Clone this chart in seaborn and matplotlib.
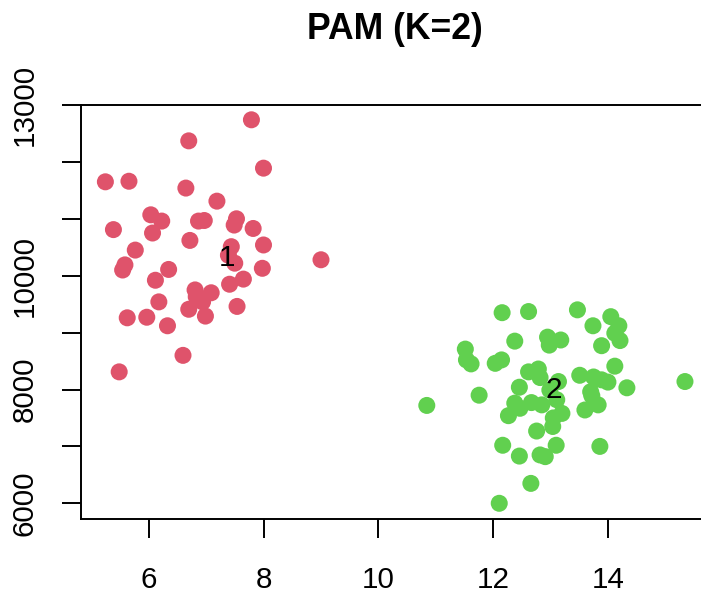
import matplotlib
matplotlib.use("Agg")
import matplotlib.pyplot as plt
import seaborn as sns
import pandas as pd

# ---- data ----
c1_x = [7.79, 6.70, 8.00, 5.25, 5.66, 6.65, 7.19, 6.04, 6.23, 5.39, 6.07, 6.87, 6.97,
        7.53, 7.49, 7.82, 6.72, 8.00, 7.44, 5.77, 7.39, 7.50, 7.98, 5.59, 5.55, 6.35,
        6.12, 7.41, 7.65, 6.81, 7.09, 6.83, 6.18, 6.94, 6.70, 7.54, 6.99, 5.63, 5.97,
        6.33, 6.60, 5.49, 9.00]
c1_y = [12740, 12370, 11890, 11650, 11660, 11540, 11310, 11070, 10960, 10810,
        10750, 10960, 10970, 11000, 10890, 10830, 10620, 10540, 10510, 10450,
        10360, 10220, 10130, 10190, 10100, 10110, 9920, 9850, 9940, 9750,
        9700, 9630, 9540, 9540, 9410, 9460, 9290, 9260, 9270, 9120, 8600,
        8310, 10280]
c2_x = [12.15, 12.61, 13.46, 14.04, 13.73, 14.18, 14.11, 14.20, 12.94, 13.17, 12.97,
        12.37, 13.88, 11.51, 11.53, 11.61, 12.03, 12.14, 14.11, 12.61, 12.78, 12.81,
        13.13, 13.50, 13.74, 13.88, 13.99, 14.32, 15.33, 12.45, 12.98, 11.75, 10.84,
        13.69, 13.71, 13.82, 13.59, 12.37, 12.46, 12.66, 12.84, 13.10, 12.26, 13.19,
        13.04, 13.03, 12.75, 12.16, 13.09, 13.85, 12.45, 12.81, 12.90, 12.65, 12.10]
c2_y = [9350, 9370, 9400, 9280, 9120, 9120, 8990, 8860, 8920, 8870, 8780,
        8850, 8770, 8710, 8520, 8450, 8460, 8520, 8410, 8310, 8360, 8210,
        8140, 8250, 8220, 8170, 8130, 8030, 8140, 8040, 7990, 7900, 7720,
        7960, 7890, 7730, 7640, 7760, 7670, 7770, 7730, 7820, 7540, 7580,
        7500, 7350, 7270, 7020, 7020, 7000, 6830, 6850, 6820, 6350, 6000]
centers_x = [7.37, 13.05]
centers_y = [10350, 8040]
center_labels = ["1", "2"]
cluster_names = ["1", "2"]

x_ticks = [6, 8, 10, 12, 14]
y_ticks = [6000, 7000, 8000, 9000, 10000, 11000, 12000, 13000]
y_ticklabels = ["6000", "", "8000", "", "10000", "", "", "13000"]
title = "PAM (K=2)"

df = pd.DataFrame({
    "x": c1_x + c2_x,
    "y": c1_y + c2_y,
    "cluster": [cluster_names[0]] * len(c1_x) + [cluster_names[1]] * len(c2_x),
})

sns.set_style("white")
plt.rcParams["font.family"] = ["Liberation Sans", "DejaVu Sans"]

W, H = 701, 592
fig = plt.figure(figsize=(W / 100, H / 100), dpi=100)
L, R, T, B = 81, 709, 105, 519
ax = fig.add_axes([L / W, 1 - B / H, (R - L) / W, (B - T) / H])

sns.scatterplot(data=df, x="x", y="y", hue="cluster",
                palette={"1": "#DF536B", "2": "#61D04F"},
                s=150, linewidth=0, ax=ax, legend=False, clip_on=False)

for cx, cy, lab in zip(centers_x, centers_y, center_labels):
    ax.annotate(lab, (cx, cy), xytext=(0, -7.6), textcoords="offset points",
                ha="center", va="baseline", fontsize=21.3, color="black")

ax.set_xlim(4.826, 15.748)
ax.set_ylim(5724.1, 13000)
ax.set_xticks(x_ticks)
ax.set_xticklabels([str(t) for t in x_ticks])
ax.set_yticks(y_ticks)
ax.set_yticklabels(y_ticklabels)
ax.set_xlabel("")
ax.set_ylabel("")

for sp in ax.spines.values():
    sp.set_color("black")
    sp.set_linewidth(1.4)
    sp.set_visible(True)

ax.tick_params(axis="both", which="both", direction="out", length=14, width=1.4,
               color="black", labelsize=21.3, labelcolor="black")
ax.tick_params(axis="x", pad=20, bottom=True)
ax.tick_params(axis="y", pad=16.5, left=True)
for lab in ax.get_yticklabels():
    lab.set_rotation(90)
    lab.set_va("center")

fig.text((L + R) / 2 / W, 1 - 39 / H, title, ha="center", va="baseline",
         fontsize=25.6, fontweight="bold", color="black")

fig.savefig("out.png", dpi=100)
